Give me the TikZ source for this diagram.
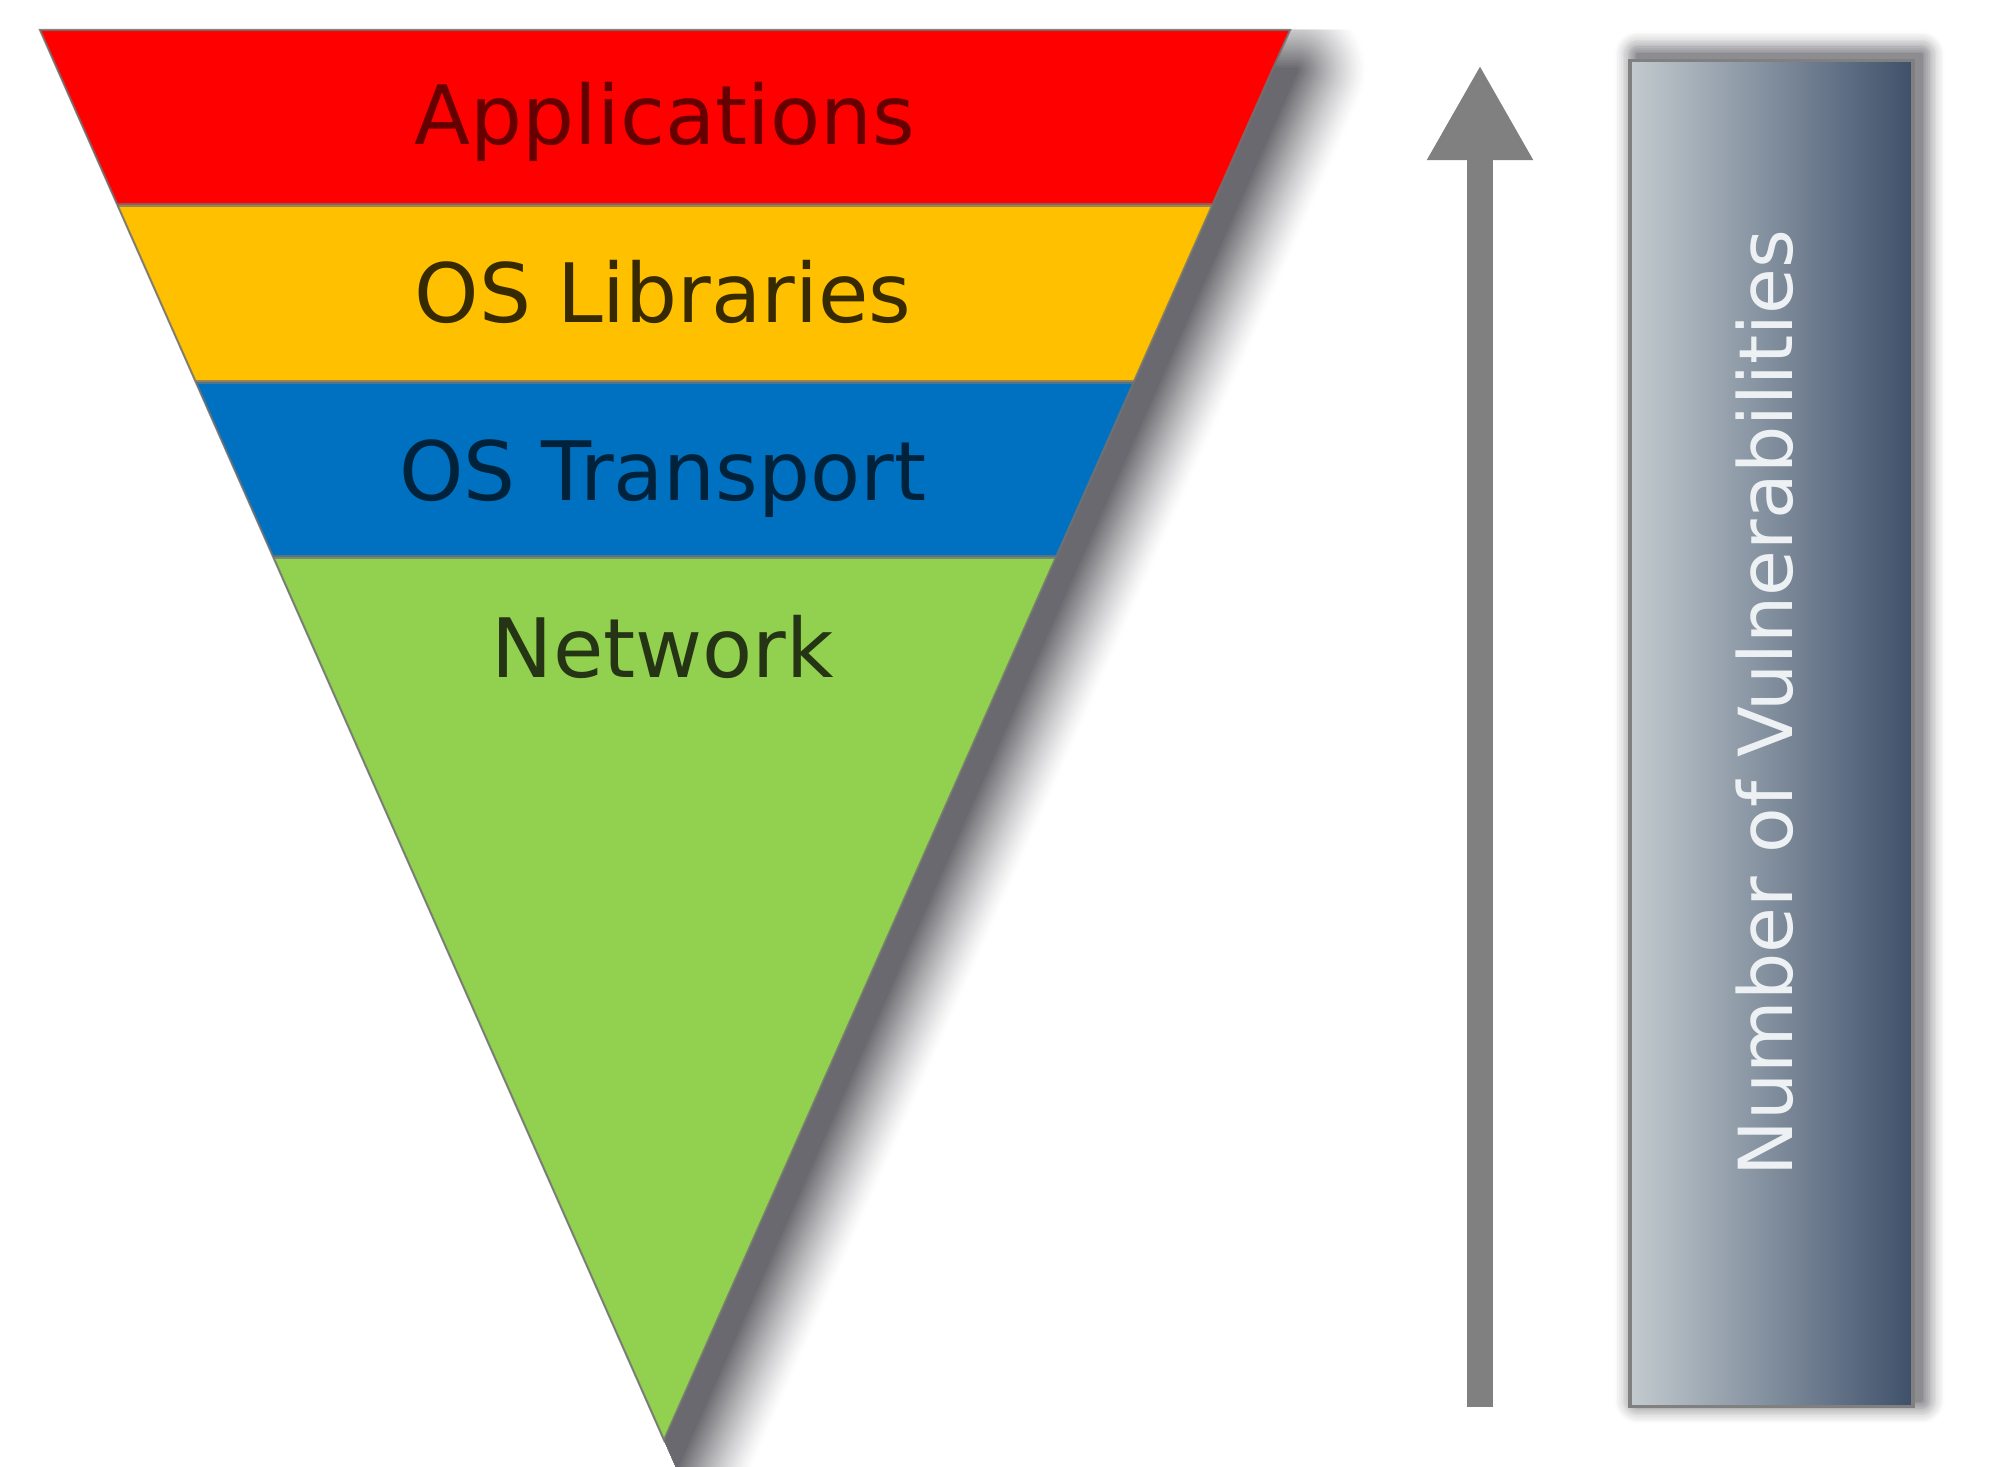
\documentclass[tikz,border=0pt]{standalone}
\usepackage{fontspec}
\setmainfont{DejaVu Sans}
\usetikzlibrary{calc,arrows.meta}
\definecolor{bandred}{HTML}{FF0000}
\definecolor{bandyel}{HTML}{FFC000}
\definecolor{bandblue}{HTML}{0070C0}
\definecolor{bandgreen}{HTML}{92D050}
\definecolor{arrgray}{HTML}{808080}
\definecolor{barL}{HTML}{C3CBCF}
\definecolor{barR}{HTML}{3E506A}
\definecolor{bartext}{HTML}{EEF1F3}
\definecolor{shadowc}{HTML}{303038}
\begin{document}
\begin{tikzpicture}[x=0.01cm,y=-0.01cm,
  sepline/.style={draw=black!55, line width=0.9pt, opacity=0.75},
  outline/.style={draw=black!55, line width=0.6pt, opacity=0.8, line join=miter},
  lbl/.style={anchor=base, font=\fontsize{23.3}{28}\selectfont},
  barbox/.style={draw=black!50, line width=1pt, left color=barL, right color=barR, inner sep=0pt, minimum width=2.83cm, minimum height=13.45cm},
  shlayer/.style={line join=round},
]
\useasboundingbox (0,0) rectangle (2000,1467);
\fill[white] (0,0) rectangle (2000,1467);
% triangle corners and band limits
\coordinate (TL) at (40,30);
\coordinate (TR) at (1290,30);
\coordinate (T) at (664,1440);
\coordinate (L1) at ($(TL)!0.1241!(T)$);
\coordinate (R1) at ($(TR)!0.1241!(T)$);
\coordinate (L2) at ($(TL)!0.2496!(T)$);
\coordinate (R2) at ($(TR)!0.2496!(T)$);
\coordinate (L3) at ($(TL)!0.3738!(T)$);
\coordinate (R3) at ($(TR)!0.3738!(T)$);
% soft shadow of the triangle (opaque graded layers, widest first)
\begin{scope}
  \clip (TL) -- ($(TL)!1.08!(T)$) -- (1950,1600) -- (1950,30) -- cycle;
  \foreach \k in {0,...,27}{
    \pgfmathsetmacro\w{2*70*(1-\k/28)*0.2845}
    \pgfmathsetmacro\p{74*((\k+0.5)/28)^1.25}
    \path[shlayer, fill=shadowc!\p!white, draw=shadowc!\p!white, line width=\w pt] ([shift={(6,40)}]TL) -- ([shift={(6,40)}]TR) -- ([shift={(6,40)}]T) -- cycle;
  }
\end{scope}
% bands
\fill[bandred] (TL) -- (TR) -- (R1) -- (L1) -- cycle;
\fill[bandyel] (L1) -- (R1) -- (R2) -- (L2) -- cycle;
\fill[bandblue] (L2) -- (R2) -- (R3) -- (L3) -- cycle;
\fill[bandgreen] (L3) -- (R3) -- (T) -- cycle;
\draw[sepline] (L1) -- (R1);
\draw[sepline] (L2) -- (R2);
\draw[sepline] (L3) -- (R3);
\draw[outline] (TL) -- (TR) -- (T) -- cycle;
\node[lbl, text=red!40!black] (app) at (665,145) {Applications};
\node[lbl, text=bandyel!22!black] (lib) at (663,323) {OS Libraries};
\node[lbl, text=bandblue!30!black] (trn) at (663,500) {OS Transport};
\node[lbl, text=bandgreen!25!black] (net) at (663,677) {Network};
% arrow
\coordinate (A0) at (1480,1407);
\coordinate (A1) at (1480,65);
\draw[arrgray, line width=0.26cm, -{Triangle[width=0.99cm,length=0.95cm]}] (A0) -- (A1);
% soft shadow of the bar
\coordinate (B1) at (1630,61);
\coordinate (B2) at (1913,1406);
\foreach \k in {0,...,13}{
  \pgfmathsetmacro\w{2*24*(1-\k/14)*0.2845}
  \pgfmathsetmacro\p{58*((\k+0.5)/14)^1.3}
  \path[shlayer, fill=shadowc!\p!white, draw=shadowc!\p!white, line width=\w pt] ([shift={(8,-6)}]B1) rectangle ([shift={(8,-6)}]B2);
}
% bar
\node[barbox] (vbar) at (1771.5,733.5) {};
\node[rotate=90, anchor=base, text=bartext, font=\fontsize{21.2}{25}\selectfont] (vtxt) at (1792,703) {Number of Vulnerabilities};
\end{tikzpicture}
\end{document}
